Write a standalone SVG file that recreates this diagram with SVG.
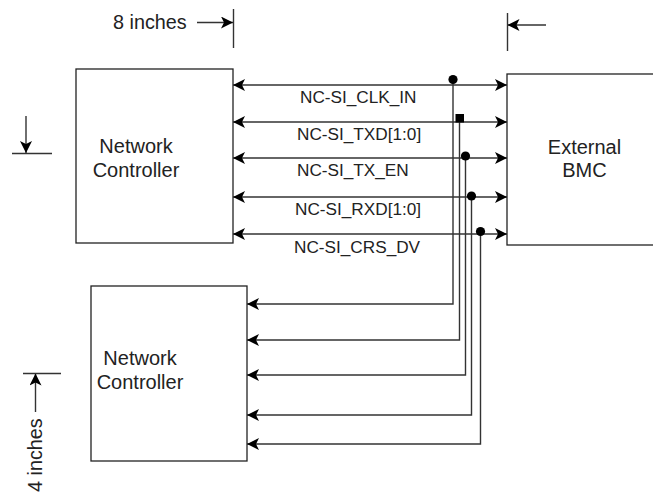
<svg xmlns="http://www.w3.org/2000/svg" width="653" height="493" viewBox="0 0 653 493">
<defs>
<style>
.box{fill:#fff;stroke:#222;stroke-width:1.3}
.ln{fill:none;stroke:#333;stroke-width:1.4}
.t{font-family:"Liberation Sans",Arial,sans-serif;fill:#222}
.node{font-size:20px}
.sig{font-size:17.2px}
.dim{font-size:19.8px}
</style>
<marker id="ah" viewBox="0 0 12 12" refX="12" refY="6" markerWidth="12" markerHeight="12" markerUnits="userSpaceOnUse" orient="auto-start-reverse">
<path d="M0,0 L12,6 L0,12 L3,6 z" fill="#000"/>
</marker>
</defs>
<rect width="653" height="493" fill="#fff"/>
<g id="nc1">
<rect class="box" x="76" y="69" width="157" height="174"/>
<text class="t node" x="136" y="153" text-anchor="middle">Network</text>
<text class="t node" x="136" y="177" text-anchor="middle">Controller</text>
</g>
<g id="bmc">
<rect class="box" x="507" y="74" width="160" height="171"/>
<text class="t node" x="584.5" y="154" text-anchor="middle">External</text>
<text class="t node" x="584.5" y="177" text-anchor="middle">BMC</text>
</g>
<g id="nc2">
<rect class="box" x="91" y="286" width="156" height="175"/>
<text class="t node" x="140" y="365" text-anchor="middle">Network</text>
<text class="t node" x="140" y="389" text-anchor="middle">Controller</text>
</g>
<g id="connectors">
<line class="ln" x1="233" y1="85" x2="507" y2="85" marker-start="url(#ah)" marker-end="url(#ah)"/>
<line class="ln" x1="233" y1="122" x2="507" y2="122" marker-start="url(#ah)" marker-end="url(#ah)"/>
<line class="ln" x1="233" y1="158" x2="507" y2="158" marker-start="url(#ah)" marker-end="url(#ah)"/>
<line class="ln" x1="233" y1="197" x2="507" y2="197" marker-start="url(#ah)" marker-end="url(#ah)"/>
<line class="ln" x1="233" y1="234" x2="507" y2="234" marker-start="url(#ah)" marker-end="url(#ah)"/>
<polyline class="ln" points="453,80 453,304 247,304" marker-end="url(#ah)"/>
<polyline class="ln" points="459.5,118 459.5,340 247,340" marker-end="url(#ah)"/>
<polyline class="ln" points="465.5,156 465.5,375 247,375" marker-end="url(#ah)"/>
<polyline class="ln" points="471.5,196 471.5,415 247,415" marker-end="url(#ah)"/>
<polyline class="ln" points="480.5,232 480.5,444 247,444" marker-end="url(#ah)"/>
<circle cx="453" cy="79.5" r="4.6" fill="#000"/>
<rect x="455.5" y="114" width="8.5" height="8.5" fill="#000"/>
<circle cx="465.5" cy="156" r="4.6" fill="#000"/>
<circle cx="471.5" cy="196" r="4.6" fill="#000"/>
<circle cx="480.5" cy="231.5" r="4.6" fill="#000"/>
</g>
<g id="labels">
<text class="t sig" x="300" y="103">NC-SI_CLK_IN</text>
<text class="t sig" x="297" y="140">NC-SI_TXD[1:0]</text>
<text class="t sig" x="297" y="176">NC-SI_TX_EN</text>
<text class="t sig" x="295" y="215">NC-SI_RXD[1:0]</text>
<text class="t sig" x="294" y="253">NC-SI_CRS_DV</text>
</g>
<g id="dimensions">
<text class="t dim" x="113" y="29">8 inches</text>
<line class="ln" x1="197" y1="22.5" x2="233" y2="22.5" marker-end="url(#ah)"/>
<line class="ln" x1="233.5" y1="9" x2="233.5" y2="48"/>
<line class="ln" x1="507.5" y1="13" x2="507.5" y2="51"/>
<line class="ln" x1="546" y1="25" x2="507.5" y2="25" marker-end="url(#ah)"/>
<line class="ln" x1="26" y1="116" x2="26" y2="153" marker-end="url(#ah)"/>
<line class="ln" x1="12" y1="153.5" x2="52" y2="153.5"/>
<line class="ln" x1="23" y1="373.5" x2="61" y2="373.5"/>
<line class="ln" x1="35.5" y1="412" x2="35.5" y2="373.5" marker-end="url(#ah)"/>
<text class="t dim" transform="translate(42,492) rotate(-90)">4 inches</text>
</g>
</svg>
